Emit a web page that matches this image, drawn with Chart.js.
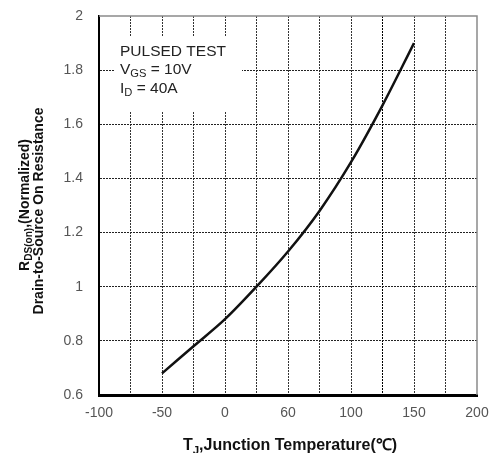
<!DOCTYPE html>
<html>
<head>
<meta charset="utf-8">
<script src="https://cdn.jsdelivr.net/npm/chart.js@4/dist/chart.umd.min.js"></script>
<style>
html,body{margin:0;padding:0;background:#fff;}
#wrap{width:496px;height:453px;position:relative;}
</style>
</head>
<body>
<div id="wrap"><canvas id="c" width="496" height="453"></canvas></div>
<script>
// Data
const temps = [-50, -25, 0, 25, 50, 75, 100, 125, 150];
const rdsNorm = [0.68, 0.78, 0.88, 1.0, 1.13, 1.28, 1.46, 1.67, 1.9];
const xTickLabels = ['-100', '-50', '0', '60', '100', '150', '200'];
const yTickLabels = ['0.6', '0.8', '1', '1.2', '1.4', '1.6', '1.8', '2'];

const FONT = '"Liberation Sans", Arial, sans-serif';

function drawRich(ctx, parts, x, y, size, bold, align) {
  const w = parts.reduce((s, p) => {
    ctx.font = (bold ? 'bold ' : '') + (p[1] ? size * 0.72 : size) + 'px ' + FONT;
    return s + ctx.measureText(p[0]).width;
  }, 0);
  let cx = align === 'center' ? x - w / 2 : x;
  parts.forEach(p => {
    ctx.font = (bold ? 'bold ' : '') + (p[1] ? size * 0.72 : size) + 'px ' + FONT;
    ctx.fillText(p[0], cx, p[1] ? y + size * 0.22 : y);
    cx += ctx.measureText(p[0]).width;
  });
}

const textPlugin = {
  id: 'texts',
  beforeDatasetsDraw(chart) {
    const ctx = chart.ctx;
    ctx.save();
    ctx.fillStyle = '#fff';
    ctx.fillRect(115, 37, 127, 74);
    ctx.restore();
  },
  afterDraw(chart) {
    const ctx = chart.ctx;
    const a = chart.chartArea;
    ctx.save();
    ctx.strokeStyle = '#8a8a8a';
    ctx.lineWidth = 1.5;
    ctx.beginPath();
    ctx.moveTo(a.left, a.top);
    ctx.lineTo(a.right, a.top);
    ctx.lineTo(a.right, a.bottom);
    ctx.stroke();

    ctx.fillStyle = '#222';
    ctx.textBaseline = 'alphabetic';
    ctx.textAlign = 'left';
    drawRich(ctx, [['PULSED TEST', false]], 120, 56, 15.5, false, 'left');
    drawRich(ctx, [['V', false], ['GS', true], [' = 10V', false]], 120, 74, 15.5, false, 'left');
    drawRich(ctx, [['I', false], ['D', true], [' = 40A', false]], 120, 93, 15.5, false, 'left');

    ctx.fillStyle = '#111';
    drawRich(ctx, [['T', false], ['J', true], [',Junction Temperature(\u2103)', false]], 290, 450, 16, true, 'center');

    ctx.save();
    ctx.translate(29, 205);
    ctx.rotate(-Math.PI / 2);
    drawRich(ctx, [['R', false], ['DS(on)', true], [',(Normalized)', false]], 0, 0, 14, true, 'center');
    ctx.restore();
    ctx.save();
    ctx.translate(43, 211);
    ctx.rotate(-Math.PI / 2);
    drawRich(ctx, [['Drain-to-Source On Resistance', false]], 0, 0, 14, true, 'center');
    ctx.restore();
    ctx.restore();
  }
};

new Chart(document.getElementById('c'), {
  type: 'scatter',
  data: {
    datasets: [{
      data: temps.map((t, i) => ({x: t, y: rdsNorm[i]})),
      showLine: true,
      borderColor: '#111',
      borderWidth: 2.5,
      pointRadius: 0,
      tension: 0.4,
      cubicInterpolationMode: 'monotone',
      fill: false
    }]
  },
  options: {
    responsive: false,
    animation: false,
    devicePixelRatio: 1,
    layout: {padding: {top: 16, right: 19, left: 0, bottom: 0}},
    plugins: {legend: {display: false}, tooltip: {enabled: false}},
    scales: {
      x: {
        type: 'linear', min: -100, max: 200,
        ticks: {
          stepSize: 25, autoSkip: false, maxRotation: 0, padding: 10,
          color: '#555', font: {family: FONT, size: 14},
          callback: v => (v % 50 === 0 ? xTickLabels[(v + 100) / 50] : '')
        },
        grid: {
          drawTicks: false, lineWidth: 1,
          color: c => (c.tick && (c.tick.value === -100 || c.tick.value === 200)) ? 'rgba(0,0,0,0)' :
                      (c.tick && c.tick.value === 125 ? '#000' : '#333')
        },
        border: {color: '#000', width: 3, dash: [2, 1]},
        afterFit: s => { s.height = 58; s.paddingLeft = 0; s.paddingRight = 0; }
      },
      y: {
        type: 'linear', min: 0.6, max: 2,
        ticks: {
          stepSize: 0.2, padding: 16, color: '#555', font: {family: FONT, size: 14},
          callback: v => yTickLabels[Math.round((v - 0.6) / 0.2)]
        },
        grid: {
          drawTicks: false, lineWidth: 1,
          color: c => (c.tick && (Math.abs(c.tick.value - 0.6) < 1e-6 || Math.abs(c.tick.value - 2) < 1e-6)) ? 'rgba(0,0,0,0)' : '#222'
        },
        border: {color: '#000', width: 2, dash: [2, 1]},
        afterFit: s => { s.width = 99; s.paddingTop = 0; s.paddingBottom = 0; }
      }
    }
  },
  plugins: [textPlugin]
});
</script>
</body>
</html>
